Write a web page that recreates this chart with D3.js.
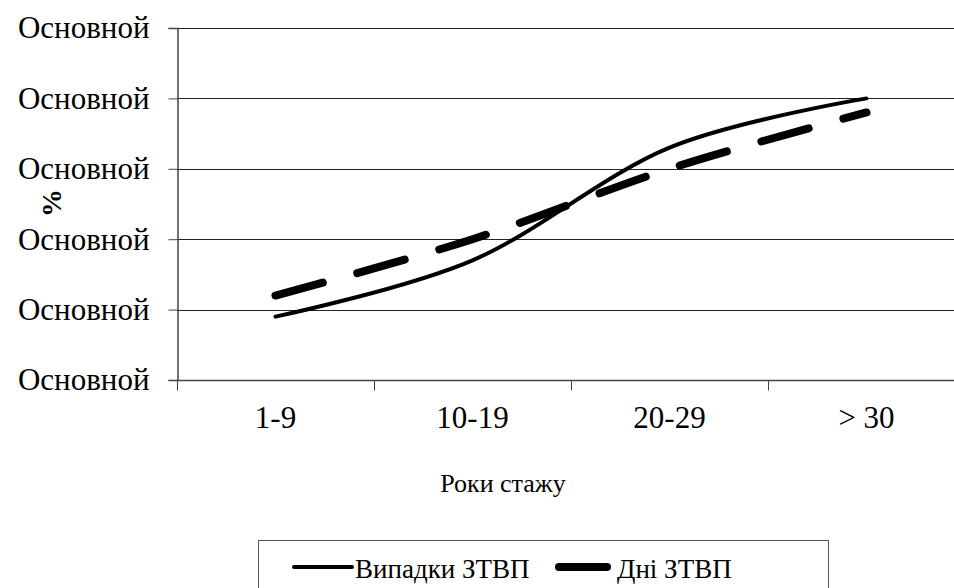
<!DOCTYPE html>
<html>
<head>
<meta charset="utf-8">
<script src="https://cdn.jsdelivr.net/npm/d3@7"></script>
<style>
  body { margin: 0; background: #fff; }
  svg { display: block; }
</style>
</head>
<body>
<script>
const w = 954;
const h = 588;
const serif = '"Liberation Serif"';

// data
const categories = ["1-9", "10-19", "20-29", "> 30"];
const casesValues = [0.9, 1.7, 3.3, 4.0]; // Випадки ЗТВП (solid)
const daysValues = [1.2, 2.0, 3.0, 3.8]; // Дні ЗТВП (dashed)
const yTicks = [0, 1, 2, 3, 4, 5];
const yTickLabels = ["Основной", "Основной", "Основной", "Основной", "Основной", "Основной"];
const seriesNames = ["Випадки ЗТВП", "Дні ЗТВП"];

const plotLeft = 177;
const plotTop = 28;
const plotBottom = 380;

const x = d3.scaleBand().domain(categories).range([plotLeft, plotLeft + 4 * 197]).padding(0);
const y = d3.scaleLinear().domain([0, 5]).range([plotBottom, plotTop]);

const svg = d3.select("body").append("svg")
  .attr("width", w)
  .attr("height", h)
  .style("font-family", serif);

// gridlines
svg.append("g")
  .selectAll("line")
  .data(yTicks.slice(1))
  .join("line")
  .attr("x1", plotLeft)
  .attr("x2", w)
  .attr("y1", (d) => Math.round(y(d)) + 0.5)
  .attr("y2", (d) => Math.round(y(d)) + 0.5)
  .attr("stroke", "#222")
  .attr("stroke-width", 1);

// y axis
const yAxis = svg.append("g")
  .attr("transform", `translate(${plotLeft + 0.5},0)`)
  .call(
    d3.axisLeft(y)
      .tickValues(yTicks)
      .tickSize(9)
      .tickPadding(19)
      .tickFormat((d, i) => yTickLabels[i])
  );
yAxis.attr("font-family", null);
yAxis.select(".domain").attr("stroke", "#444").attr("stroke-width", 1.5);
yAxis.selectAll(".tick line").attr("stroke", "#444");
yAxis.selectAll("text")
  .attr("fill", "#000")
  .style("font-family", serif)
  .style("font-size", "31px");

// x axis: ticks between categories
const xAxis = svg.append("g").attr("transform", `translate(0,${plotBottom + 0.5})`);
xAxis.append("line")
  .attr("x1", plotLeft)
  .attr("x2", w)
  .attr("stroke", "#444")
  .attr("stroke-width", 1.5);
xAxis.selectAll(".xt")
  .data(categories)
  .join("line")
  .attr("class", "xt")
  .attr("x1", (d) => Math.round(x(d)) + 0.5)
  .attr("x2", (d) => Math.round(x(d)) + 0.5)
  .attr("y1", 0)
  .attr("y2", 10)
  .attr("stroke", "#444");
xAxis.selectAll("text")
  .data(categories)
  .join("text")
  .attr("x", (d) => x(d) + x.bandwidth() / 2)
  .attr("y", 47)
  .attr("text-anchor", "middle")
  .style("font-family", serif)
  .style("font-size", "31px")
  .text((d) => d);

// axis titles
svg.append("text")
  .attr("transform", "translate(61,203) rotate(-90)")
  .attr("text-anchor", "middle")
  .style("font-family", serif)
  .style("font-size", "28px")
  .style("font-weight", "bold")
  .text("%");

svg.append("text")
  .attr("x", 503)
  .attr("y", 492)
  .attr("text-anchor", "middle")
  .style("font-family", serif)
  .style("font-size", "26px")
  .text("Роки стажу");

// lines
const line = d3.line()
  .x((d, i) => x(categories[i]) + x.bandwidth() / 2)
  .y((d) => y(d))
  .curve(d3.curveCatmullRom.alpha(0));

svg.append("path")
  .datum(casesValues)
  .attr("d", line)
  .attr("fill", "none")
  .attr("stroke", "#000")
  .attr("stroke-width", 4)
  .attr("stroke-linecap", "round");

svg.append("path")
  .datum(daysValues)
  .attr("d", line)
  .attr("fill", "none")
  .attr("stroke", "#000")
  .attr("stroke-width", 8)
  .attr("stroke-linecap", "round")
  .attr("stroke-dasharray", "49,36");

// legend
const legend = svg.append("g");
legend.append("rect")
  .attr("x", 258.5)
  .attr("y", 540.5)
  .attr("width", 570)
  .attr("height", 60)
  .attr("fill", "#fff")
  .attr("stroke", "#555")
  .attr("stroke-width", 1);

legend.append("line")
  .attr("x1", 294).attr("x2", 352)
  .attr("y1", 567).attr("y2", 567)
  .attr("stroke", "#000").attr("stroke-width", 4).attr("stroke-linecap", "round");
legend.append("text")
  .attr("x", 355).attr("y", 578)
  .style("font-family", serif)
  .style("font-size", "27px")
  .text(seriesNames[0]);

legend.append("line")
  .attr("x1", 559).attr("x2", 607)
  .attr("y1", 567).attr("y2", 567)
  .attr("stroke", "#000").attr("stroke-width", 8).attr("stroke-linecap", "round");
legend.append("text")
  .attr("x", 617).attr("y", 578)
  .style("font-family", serif)
  .style("font-size", "27px")
  .text(seriesNames[1]);
</script>
</body>
</html>
